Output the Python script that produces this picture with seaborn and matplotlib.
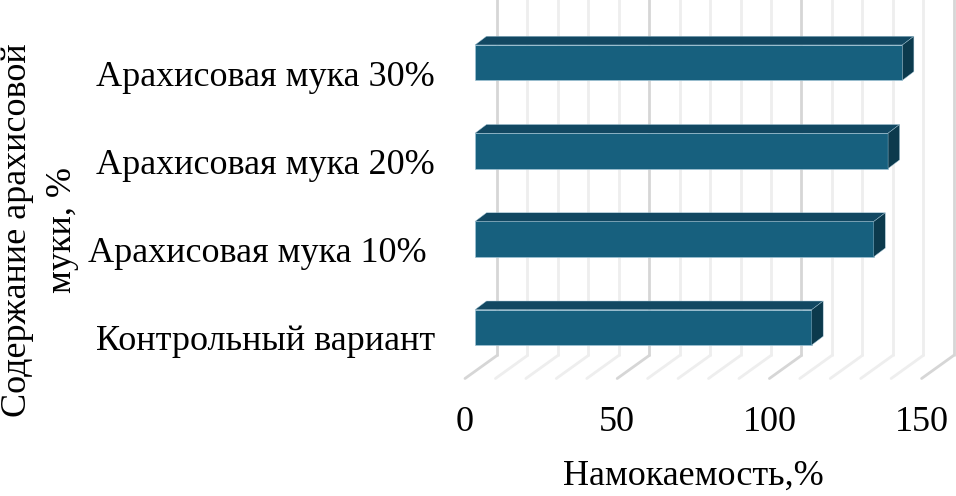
import numpy as np
import pandas as pd
import matplotlib
matplotlib.use('Agg')
import matplotlib.pyplot as plt
from matplotlib.patches import Polygon
import seaborn as sns

# Chart data
CATEGORIES = ['Арахисовая мука 30%', 'Арахисовая мука 20%',
              'Арахисовая мука 10% ', 'Контрольный вариант']
VALUES = [140.4, 135.7, 131.0, 110.6]
X_TICKS = [0, 50, 100, 150]
X_LABEL = 'Намокаемость,%'
Y_LABEL = 'Содержание арахисовой\nмуки, %'

FRONT = '#17607e'
TOP = '#124862'
SIDE = '#0c3a4d'
EDGE = '#9fc3d4'
FS = 26

W, H, DPI = 956, 496, 100


def px_box(left, top, width, height):
    """Figure-fraction rect from pixel box (top-left origin)."""
    return [left / W, 1 - (top + height) / H, width / W, height / H]


sns.set_theme(style='white')
plt.rcParams['font.family'] = ['Liberation Serif', 'DejaVu Serif']

fig = plt.figure(figsize=(W / DPI, H / DPI), dpi=DPI)

# main axes = front plane of the bars
ax = fig.add_axes(px_box(475, 18.5, 456.6, 353))
df = pd.DataFrame({'cat': CATEGORIES, 'val': VALUES})
sns.barplot(data=df, x='val', y='cat', orient='h', width=0.4, color=FRONT,
            saturation=1, edgecolor=EDGE, linewidth=0.5, ax=ax, zorder=3)
ax.set_xlim(0, 150)
ax.set_ylim(3.5, -0.5)
ax.axis('off')


def px2data(dx, dy):
    # pixel offset (right, up) -> data offset
    o = ax.transData.transform((0, 0))
    p = ax.transData.inverted().transform((o[0] + dx, o[1] + dy))
    return p[0], p[1]


wall_dx, wall_dy = px2data(22, 16)
front_dx, front_dy = px2data(-10, -7)
bar_dx, bar_dy = px2data(11.5, 8.7)
top_y = px2data(0, 20)[1] - 0.5

# back wall gridlines and floor lines
for v in range(0, 151, 10):
    col = '#d6d6d6' if v % 50 == 0 else '#eeeeee'
    ax.plot([v + wall_dx, v + wall_dx], [3.5 + wall_dy, top_y], color=col,
            lw=2, zorder=1, clip_on=False, solid_capstyle='butt')
    ax.plot([v + wall_dx, v + front_dx], [3.5 + wall_dy, 3.5 + front_dy],
            color=col, lw=2, zorder=1, clip_on=False)

# 3D top and side faces built from the seaborn bars
for p in list(ax.patches):
    x0, y0 = p.get_x(), p.get_y()
    x1, y1 = x0 + p.get_width(), y0 + p.get_height()
    ytop = min(y0, y1)
    ybot = max(y0, y1)
    top = [(x0, ytop), (x1, ytop), (x1 + bar_dx, ytop + bar_dy), (x0 + bar_dx, ytop + bar_dy)]
    side = [(x1, ytop), (x1 + bar_dx, ytop + bar_dy), (x1 + bar_dx, ybot + bar_dy), (x1, ybot)]
    ax.add_patch(Polygon(top, closed=True, facecolor=TOP, edgecolor=EDGE,
                         lw=0.3, zorder=3, clip_on=False))
    ax.add_patch(Polygon(side, closed=True, facecolor=SIDE, edgecolor=EDGE,
                         lw=0.3, zorder=3, clip_on=False))

# label axes = front floor plane (shifted left/down)
ax2 = fig.add_axes(px_box(465, 29, 456.6, 353), zorder=0)
ax2.set_xlim(0, 150)
ax2.set_ylim(3.5, -0.5)
ax2.patch.set_visible(False)
for s in ax2.spines.values():
    s.set_visible(False)
ax2.set_xticks(X_TICKS)
ax2.set_xticklabels([str(t) for t in X_TICKS])
ax2.set_yticks(range(len(CATEGORIES)))
ax2.set_yticklabels(CATEGORIES)
ax2.tick_params(axis='x', length=0, pad=17, labelsize=FS, colors='black')
ax2.tick_params(axis='y', length=0, pad=21.5, labelsize=FS, colors='black')
ax2.set_xlabel(X_LABEL, fontsize=FS, labelpad=15, color='black')

fig.text(40 / W, 1 - 230 / H, Y_LABEL, rotation=90, ha='center', va='center',
         multialignment='center', fontsize=FS, linespacing=1.45, color='black')

fig.savefig('out.png', dpi=DPI)
